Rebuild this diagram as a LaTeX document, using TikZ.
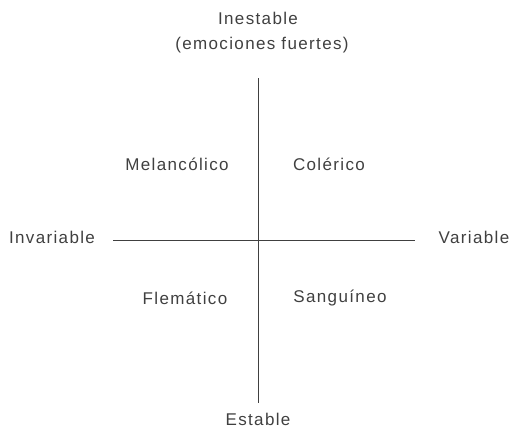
\documentclass[tikz,border=0pt]{standalone}
\usepackage{fontspec}
\setmainfont{Liberation Sans}[LetterSpace=8.0]
\begin{document}
\begin{tikzpicture}[x=1pt,y=-1pt,
  lbl/.style={font=\fontsize{17}{19}\selectfont, text=black!75, inner sep=0pt},
  axis/.style={draw=black!75, line width=0.9pt}]
\useasboundingbox (0,0) rectangle (513,429);
\coordinate (top) at (258,78);
\coordinate (bot) at (258,403);
\coordinate (left) at (113,240);
\coordinate (right) at (415,240);
\draw[axis] (top) -- (bot);
\draw[axis] (left) -- (right);
\node[lbl] (inest) at (258,18) {Inestable};
\node[lbl] (emo) at (262,45) {(emociones fuertes)};
\node[lbl] (mel) at (177,164) {Melancólico};
\node[lbl] (col) at (329,164) {Colérico};
\node[lbl] (inv) at (52,237) {Invariable};
\node[lbl] (var) at (474,237) {Variable};
\node[lbl] (fle) at (185,298) {Flemático};
\node[lbl] (san) at (340,298) {Sanguíneo};
\node[lbl] (est) at (258,419) {Estable};
\end{tikzpicture}
\end{document}
